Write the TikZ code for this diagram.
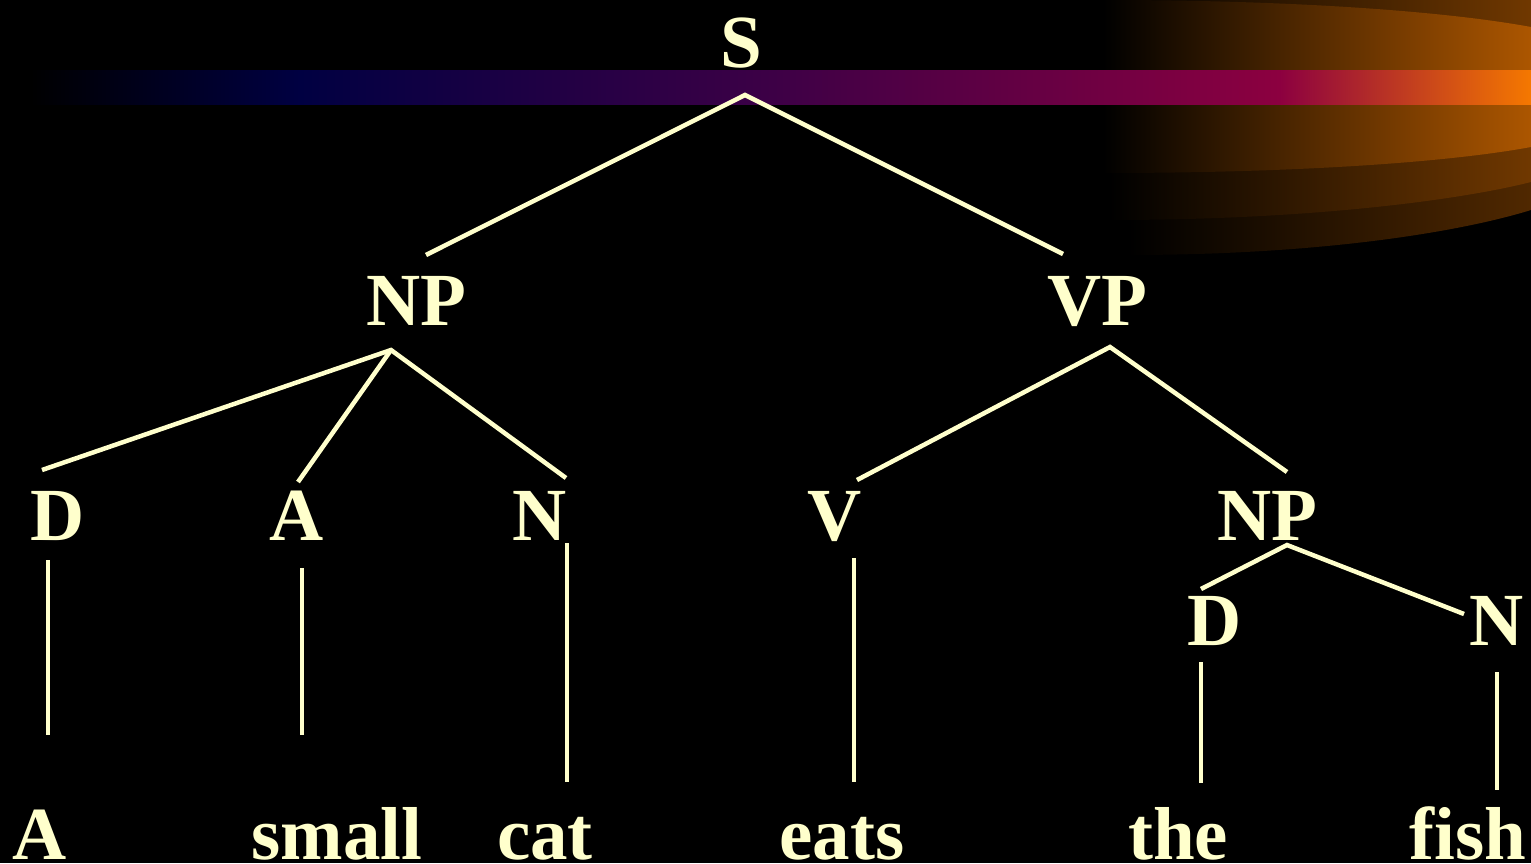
\documentclass[tikz,border=0pt]{standalone}
\usepackage{fontspec}
\setmainfont{Liberation Serif}
\definecolor{ink}{HTML}{FFFFCC}
\definecolor{navy}{RGB}{0,0,66}
\definecolor{plum}{RGB}{62,0,70}
\definecolor{wine}{RGB}{140,0,64}
\definecolor{flame}{RGB}{245,120,0}
\definecolor{orA}{RGB}{172,86,0}
\definecolor{orB}{RGB}{112,56,0}
\definecolor{orC}{RGB}{80,40,0}
\tikzset{
  lbl/.style={text=ink, font=\fontsize{75}{75}\selectfont\bfseries, anchor=base, inner sep=0pt},
  edge/.style={draw=ink, line width=4.5pt}
}
\begin{document}
\begin{tikzpicture}[x=1pt,y=-1pt]
\fill[black] (0,0) rectangle (1531,863);
\useasboundingbox (0,0) rectangle (1531,863);
\begin{scope}
\clip (0,0) rectangle (1531,863);
% orange lens bands
\shade[left color=black, right color=orC]
  (1128,-81) -- (1128,255) .. controls (1320,255) and (1460,232) .. (1531,210)
  -- (1531,-36) .. controls (1460,-58) and (1320,-81) .. (1128,-81) -- cycle;
\shade[left color=black, right color=orB]
  (1110,-46) -- (1110,220) .. controls (1310,220) and (1460,200) .. (1531,182)
  -- (1531,-8) .. controls (1460,-26) and (1310,-46) .. (1110,-46) -- cycle;
\shade[left color=black, right color=orA]
  (1103,0) -- (1103,173) .. controls (1300,173) and (1450,162) .. (1531,147)
  -- (1531,27) .. controls (1450,12) and (1300,0) .. (1103,0) -- cycle;
% purple band
\shade[left color=black, right color=navy] (30,70) rectangle (300,104);
\shade[left color=navy, right color=plum] (299.5,70) rectangle (780,104);
\shade[left color=plum, right color=wine] (779.5,70) rectangle (1280,104);
\shade[left color=wine, right color=flame] (1279.5,70) rectangle (1531,104);
\end{scope}

% nodes
\node[lbl] (S) at (741,67) {S};
\node[lbl] (NP) at (416,325) {NP};
\node[lbl] (VP) at (1097,325) {VP};
\node[lbl] (D) at (58,540) {D};
\node[lbl] (A) at (297,540) {A};
\node[lbl] (N) at (540,540) {N};
\node[lbl] (V) at (835,540) {V};
\node[lbl] (NPb) at (1267,540) {NP};
\node[lbl] (Db) at (1215,645) {D};
\node[lbl] (Nb) at (1497,645) {N};
\node[lbl] (w1) at (40,859) {A};
\node[lbl] (w2) at (337,859) {small};
\node[lbl] (w3) at (545,859) {cat};
\node[lbl] (w4) at (842,859) {eats};
\node[lbl] (w5) at (1178,859) {the};
\node[lbl] (w6) at (1468,859) {fish};

% connector ends
\coordinate (S-f) at (745,95);
\coordinate (NP-h) at (426,255);
\coordinate (VP-h) at (1063,254);
\coordinate (NP-f) at (391,350);
\coordinate (D-h) at (42,470);
\coordinate (A-h) at (298,482);
\coordinate (N-h) at (566,478);
\coordinate (VP-f) at (1110,347);
\coordinate (V-h) at (857,480);
\coordinate (NPb-h) at (1287,472);
\coordinate (NPb-f) at (1287,545);
\coordinate (Db-h) at (1201,589);
\coordinate (Nb-h) at (1464,614);
\coordinate (D-f) at (48,560);
\coordinate (w1-h) at (48,735);
\coordinate (A-f) at (302,568);
\coordinate (w2-h) at (302,735);
\coordinate (N-f) at (567,543);
\coordinate (w3-h) at (567,782);
\coordinate (V-f) at (854,558);
\coordinate (w4-h) at (854,782);
\coordinate (Db-f) at (1201,662);
\coordinate (w5-h) at (1201,783);
\coordinate (Nb-f) at (1497,672);
\coordinate (w6-h) at (1497,790);

\draw[edge] (NP-h) -- (S-f) -- (VP-h);
\draw[edge] (D-h) -- (NP-f) -- (N-h);
\draw[edge] (NP-f) -- (A-h);
\draw[edge] (V-h) -- (VP-f) -- (NPb-h);
\draw[edge] (Db-h) -- (NPb-f) -- (Nb-h);
\draw[edge] (D-f) -- (w1-h);
\draw[edge] (A-f) -- (w2-h);
\draw[edge] (N-f) -- (w3-h);
\draw[edge] (V-f) -- (w4-h);
\draw[edge] (Db-f) -- (w5-h);
\draw[edge] (Nb-f) -- (w6-h);
\end{tikzpicture}
\end{document}
